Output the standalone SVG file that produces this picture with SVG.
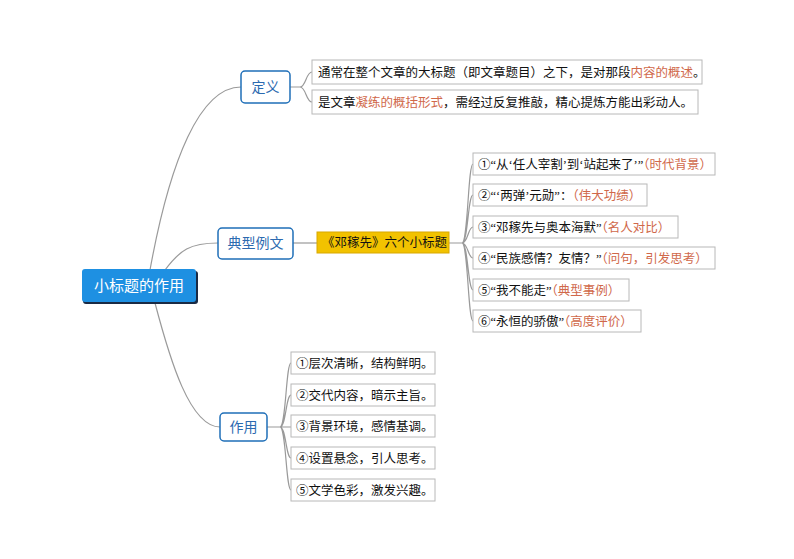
<svg xmlns="http://www.w3.org/2000/svg" width="794" height="559" viewBox="0 0 794 559">
<style>
text{font-family:"Liberation Serif","Noto Sans CJK SC",serif;font-size:12.5px;fill:#111}
.c{fill:none;stroke:#9a9a9a;stroke-width:1.2}
.leaf{fill:#fff;stroke:#b8b8b8;stroke-width:1}
.mid{fill:#fff;stroke:#1f6fb8;stroke-width:1.5}
.midt{fill:#2c6ab0;font-size:14px;text-anchor:middle}
.o{fill:#d0684a}
</style>
<rect width="794" height="559" fill="#fff"/>
<g id="connectors">
<path class="c" d="M150,270 C170,160 200,87 241,87"/>
<path class="c" d="M165,270 C180,250 190,243 218,243"/>
<path class="c" d="M155,303 C170,360 190,427 220,427"/>
<path class="c" d="M290,87 H300 M300,87 C306,87 306,72 312,72 M300,87 C306,87 306,102 312,102"/>
<path class="c" d="M293,243 H317"/>
<path class="c" d="M449,243 H462 M462,243 C468,243 468,164 473,164 M462,243 C468,243 468,195 473,195 M462,243 C468,243 468,227 473,227 M462,243 C468,243 468,258 473,258 M462,243 C468,243 468,290 473,290 M462,243 C468,243 468,321 473,321"/>
<path class="c" d="M267,427 H280 M280,427 C286,427 286,363 291,363 M280,427 C286,427 286,395 291,395 M280,427 H291 M280,427 C286,427 286,458 291,458 M280,427 C286,427 286,490 291,490"/>
</g>
<g id="root">
<rect x="83" y="271" width="115" height="33" rx="3" fill="#1a2a44"/>
<rect x="82" y="269" width="114" height="33" rx="3" fill="#1e90e2"/>
<text x="139" y="291" style="fill:#fff;font-size:15px;text-anchor:middle">小标题的作用</text>
</g>
<g id="def">
<rect class="mid" x="241" y="71" width="49" height="32" rx="4"/>
<text class="midt" x="265.5" y="92">定义</text>
</g>
<g id="def1"><rect class="leaf" x="312" y="60" width="390" height="24"/><text x="318" y="77">通常在整个文章的大标题（即文章题目）之下，是对那段<tspan class="o">内容的概述</tspan>。</text></g>
<g id="def2"><rect class="leaf" x="312" y="90" width="386" height="24"/><text x="318" y="107">是文章<tspan class="o">凝练的概括形式</tspan>，需经过反复推敲，精心提炼方能出彩动人。</text></g>
<g id="ex">
<rect class="mid" x="218" y="228" width="75" height="31" rx="4"/>
<text class="midt" x="255.5" y="248">典型例文</text>
</g>
<g id="deng">
<rect x="317" y="232" width="132" height="21" fill="#f2c200" stroke="#d8a800"/>
<text x="322" y="247">《邓稼先》六个小标题</text>
</g>
<g id="e1"><rect class="leaf" x="473" y="153" width="242" height="22"/><text x="478" y="169">①“从‘任人宰割’到‘站起来了’”<tspan class="o">（时代背景）</tspan></text></g>
<g id="e2"><rect class="leaf" x="473" y="184" width="174" height="22"/><text x="478" y="200">②“‘两弹’元勋”：<tspan class="o">（伟大功绩）</tspan></text></g>
<g id="e3"><rect class="leaf" x="473" y="216" width="205" height="22"/><text x="478" y="232">③“邓稼先与奥本海默”<tspan class="o">（名人对比）</tspan></text></g>
<g id="e4"><rect class="leaf" x="473" y="247" width="242" height="22"/><text x="478" y="263">④“民族感情？友情？”<tspan class="o">（问句，引发思考）</tspan></text></g>
<g id="e5"><rect class="leaf" x="473" y="279" width="156" height="22"/><text x="478" y="295">⑤“我不能走”<tspan class="o">（典型事例）</tspan></text></g>
<g id="e6"><rect class="leaf" x="473" y="310" width="168" height="22"/><text x="478" y="326">⑥“永恒的骄傲”<tspan class="o">（高度评价）</tspan></text></g>
<g id="use">
<rect class="mid" x="220" y="413" width="47" height="28" rx="4"/>
<text class="midt" x="243.5" y="432">作用</text>
</g>
<g id="u1"><rect class="leaf" x="291" y="352" width="144" height="22"/><text x="296" y="368">①层次清晰，结构鲜明。</text></g>
<g id="u2"><rect class="leaf" x="291" y="384" width="144" height="22"/><text x="296" y="400">②交代内容，暗示主旨。</text></g>
<g id="u3"><rect class="leaf" x="291" y="415" width="144" height="22"/><text x="296" y="431">③背景环境，感情基调。</text></g>
<g id="u4"><rect class="leaf" x="291" y="447" width="144" height="22"/><text x="296" y="463">④设置悬念，引人思考。</text></g>
<g id="u5"><rect class="leaf" x="291" y="479" width="144" height="22"/><text x="296" y="495">⑤文学色彩，激发兴趣。</text></g>
</svg>
